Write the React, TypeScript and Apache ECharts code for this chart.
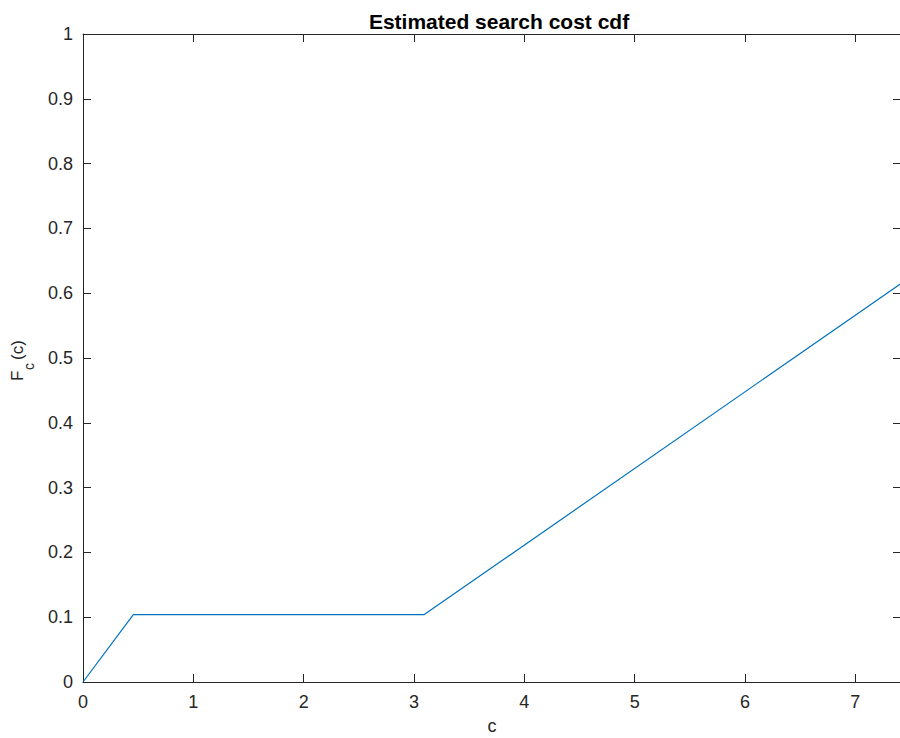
import React, { useEffect, useRef } from "react";
import * as echarts from "echarts";

const titleText = "Estimated search cost cdf";
const xLabel = "c";
const costX = [0, 0.456, 3.093, 7.414];
const cdfY = [0, 0.104, 0.104, 0.615];
const xMin = 0;
const xMax = 7.414;
const xStep = 1;
const yMin = 0;
const yMax = 1;
const yStep = 0.1;

const FONT = "'Liberation Sans', Arial, Helvetica, sans-serif";
const AXIS_COLOR = "#262626";

export default function App() {
  const ref = useRef<HTMLDivElement>(null);
  useEffect(() => {
    if (!ref.current) return;
    const chart = echarts.init(ref.current, undefined, { renderer: "svg" });
    const data = costX.map((x, i) => [x, cdfY[i]]);
    const axisCommon = {
      type: "value" as const,
      axisLine: { show: true, onZero: false, lineStyle: { color: AXIS_COLOR, width: 1 } },
      axisTick: { show: true, inside: true, length: 8, lineStyle: { color: AXIS_COLOR, width: 1 } },
      splitLine: { show: false },
    };
    chart.setOption({
      animation: false,
      backgroundColor: "#ffffff",
      title: {
        text: titleText,
        left: 494,
        textAlign: "center",
        top: 6,
        textStyle: { fontFamily: FONT, fontWeight: "bold", fontSize: 21, color: "#000000" },
      },
      grid: { left: 83, right: 1, top: 34, bottom: 56, containLabel: false, outerBoundsMode: "none" },
      xAxis: [
        {
          ...axisCommon,
          position: "bottom",
          min: xMin,
          max: xMax,
          interval: xStep,
          name: xLabel,
          nameLocation: "middle",
          nameGap: 35,
          nameTextStyle: { fontFamily: FONT, fontSize: 18, color: AXIS_COLOR },
          axisLabel: {
            show: true,
            margin: 11,
            showMaxLabel: false,
            fontFamily: FONT,
            fontSize: 18,
            color: AXIS_COLOR,
          },
        },
        {
          ...axisCommon,
          position: "top",
          min: xMin,
          max: xMax,
          interval: xStep,
          axisLabel: { show: false },
        },
      ],
      yAxis: [
        {
          ...axisCommon,
          position: "left",
          min: yMin,
          max: yMax,
          interval: yStep,
          axisLabel: {
            show: true,
            margin: 10,
            fontFamily: FONT,
            fontSize: 18,
            color: AXIS_COLOR,
            formatter: (v: number) => String(Math.round(v * 10) / 10),
          },
        },
        {
          ...axisCommon,
          position: "right",
          min: yMin,
          max: yMax,
          interval: yStep,
          axisLabel: { show: false },
        },
      ],
      series: [
        {
          type: "line",
          data,
          xAxisIndex: 0,
          yAxisIndex: 0,
          showSymbol: false,
          symbol: "none",
          lineStyle: { color: "#0072BD", width: 1.2 },
          clip: true,
        },
      ],
      graphic: [
        {
          type: "group",
          x: 17,
          y: 381,
          rotation: Math.PI / 2,
          children: [
            {
              type: "text",
              x: 0,
              y: 0,
              style: { text: "F", fontFamily: FONT, fontSize: 17, fill: AXIS_COLOR, textAlign: "left", textVerticalAlign: "middle" },
            },
            {
              type: "text",
              x: 11,
              y: 12,
              style: { text: "c", fontFamily: FONT, fontSize: 14, fill: AXIS_COLOR, textAlign: "left", textVerticalAlign: "middle" },
            },
            {
              type: "text",
              x: 21,
              y: 0,
              style: { text: "(c)", fontFamily: FONT, fontSize: 17, fill: AXIS_COLOR, textAlign: "left", textVerticalAlign: "middle" },
            },
          ],
        },
      ],
    });
    return () => chart.dispose();
  }, []);
  return (
    <div style={{ position: "fixed", left: 0, top: 0, width: 900, height: 738, overflow: "hidden", background: "#fff" }}>
      <div ref={ref} style={{ width: 902, height: 738 }} />
    </div>
  );
}
